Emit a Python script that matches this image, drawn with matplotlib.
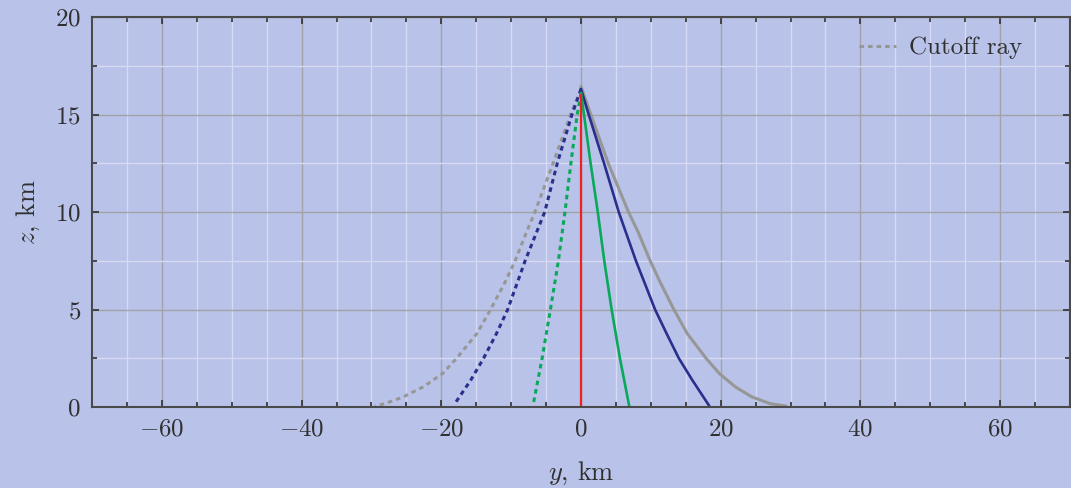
import numpy as np
import matplotlib.pyplot as plt
from matplotlib.ticker import MultipleLocator

plt.rcParams['font.family'] = 'serif'
plt.rcParams['font.serif'] = ['cmr10']
plt.rcParams['mathtext.fontset'] = 'cm'
plt.rcParams['axes.formatter.use_mathtext'] = True
plt.rcParams['axes.unicode_minus'] = True

# ray paths: horizontal range y (km), height z (km)
red_y = [0, 0]
red_z = [0, 16.0]

green_y = [0, 0.43, 1.37, 2.4, 3.33, 4.38, 5.57, 6.9]
green_z = [16.1, 15, 12.5, 10, 7.5, 5, 2.5, 0.05]
green_dash_y = [0, -0.55, -1.45, -2.3, -3.24, -4.38, -5.57, -6.85]
green_dash_z = [16.1, 15, 12.5, 10, 7.5, 5, 2.5, 0.12]

blue_y = [0, 1.1, 3.3, 5.4, 7.86, 10.6, 12.25, 14.0, 15.95, 18.3]
blue_z = [16.3, 15, 12.5, 10, 7.5, 5, 3.77, 2.5, 1.37, 0.09]
blue_dash_y = [0, -1.3, -3.4, -5.2, -8.0, -10.5, -12.1, -13.95, -15.8, -17.9]
blue_dash_z = [16.3, 15, 12.5, 10, 7.5, 5, 3.77, 2.5, 1.37, 0.26]

cut_y = [0, 1.4, 3.9, 6.8, 8.24, 9.9, 11.4, 13.3, 15.2, 17.9, 19.8, 22.1, 24.5, 27.1, 29.3]
cut_z = [16.43, 15, 12.5, 10, 8.92, 7.5, 6.35, 5, 3.77, 2.5, 1.72, 1.03, 0.51, 0.17, 0.05]
cut_dash_y = [0, -1.5, -4.0, -6.6, -7.86, -9.43, -10.95, -12.95, -14.9, -17.8, -19.8,
              -22.6, -25.5, -28.1, -29.5]
cut_dash_z = [16.3, 15, 12.5, 10, 8.92, 7.5, 6.35, 5, 3.77, 2.5, 1.72, 1.03, 0.51, 0.17, 0.05]

bg = '#b9c3e9'
fig = plt.figure(figsize=(10.71, 4.88), dpi=100, facecolor=bg)
ax = fig.add_axes([0.086, 0.166, 0.913, 0.799], facecolor=bg)

dash = (0, (1.5, 1.3))
ax.plot(cut_dash_y, cut_dash_z, color='#979797', lw=2.2, linestyle=dash, label='Cutoff ray')
ax.plot(cut_y, cut_z, color='#979797', lw=2.2)
ax.plot(blue_dash_y, blue_dash_z, color='#2a2e8c', lw=2.2, linestyle=dash)
ax.plot(blue_y, blue_z, color='#2a2e8c', lw=1.9)
ax.plot(green_dash_y, green_dash_z, color='#0aa85a', lw=2.2, linestyle=dash)
ax.plot(green_y, green_z, color='#0aa85a', lw=1.9)
ax.plot(red_y, red_z, color='#f02020', lw=1.6)

ax.set_xlim(-70, 70)
ax.set_ylim(0, 20)
ax.xaxis.set_major_locator(MultipleLocator(20))
ax.xaxis.set_minor_locator(MultipleLocator(5))
ax.yaxis.set_major_locator(MultipleLocator(5))
ax.yaxis.set_minor_locator(MultipleLocator(2.5))

ax.grid(which='minor', color='#d6dbf3', lw=1.0)
ax.grid(which='major', color='#a2a2a8', lw=1.0)
ax.set_axisbelow(True)

ax.tick_params(which='both', direction='in', top=True, right=True, colors='#303030',
               labelsize=18, pad=8)
ax.tick_params(which='major', length=5, width=1.2)
ax.tick_params(which='minor', length=3.5, width=1.2)
for s in ax.spines.values():
    s.set_color('#4a4a4a')
    s.set_linewidth(1.5)

ax.set_xlabel(r'$y$, km', fontsize=19, color='#303030', labelpad=14)
ax.set_ylabel(r'$z$, km', fontsize=19, color='#303030', labelpad=9)

leg = ax.legend(loc='upper right', frameon=False, fontsize=18, handlelength=1.5,
                handletextpad=0.5, labelcolor='#303030', borderaxespad=0.0,
                bbox_to_anchor=(0.961, 0.975))

fig.savefig('out.png', dpi=100, facecolor=bg)
